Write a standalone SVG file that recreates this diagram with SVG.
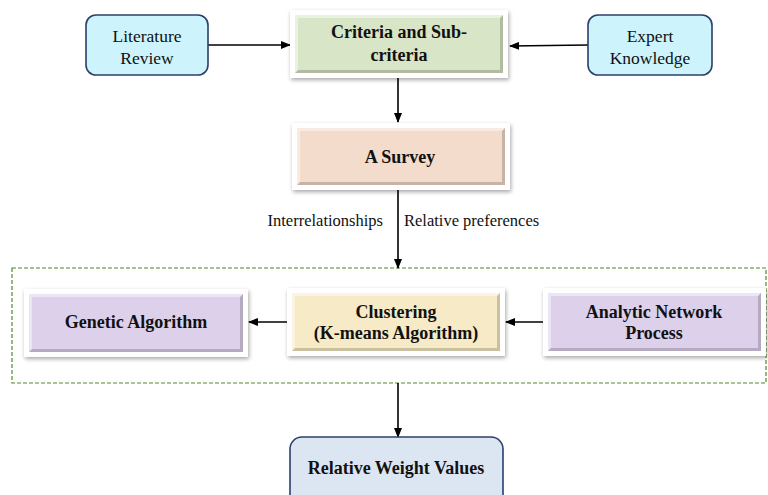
<svg xmlns="http://www.w3.org/2000/svg" width="768" height="495" viewBox="0 0 768 495">
<defs>
<filter id="sh" x="-10%" y="-20%" width="120%" height="140%">
<feGaussianBlur in="SourceAlpha" stdDeviation="2"/>
<feOffset dx="1" dy="2"/>
<feComponentTransfer><feFuncA type="linear" slope="0.35"/></feComponentTransfer>
<feMerge><feMergeNode/><feMergeNode in="SourceGraphic"/></feMerge>
</filter>
<marker id="ah" markerWidth="10" markerHeight="8" refX="9" refY="4" orient="auto" markerUnits="userSpaceOnUse">
<path d="M0,0 L10,4 L0,8 Z" fill="#000"/>
</marker>
</defs>
<style>
.frame{fill:#fff;filter:url(#sh)}
.rnd{stroke:#2b3f6b;stroke-width:1.6}
.t{font-family:"Liberation Serif","Times New Roman",serif;fill:#111;text-anchor:middle}
.b{font-weight:bold;font-size:18px}
.r{font-size:17.5px}
.lab{font-family:"Liberation Serif","Times New Roman",serif;font-size:16.5px;fill:#111}
.con{stroke:#000;stroke-width:1.6;fill:none;marker-end:url(#ah)}
.light{fill:#fff;opacity:0.45}
.dark{fill:#000;opacity:0.18}
</style>
<rect width="768" height="495" fill="#fff"/>

<g id="group-box">
<rect x="12" y="268" width="754" height="115" fill="none" stroke="#4e8a2e" stroke-width="1.2" stroke-dasharray="4,2"/>
</g>

<g id="connectors">
<line class="con" x1="208" y1="45" x2="290" y2="45"/>
<line class="con" x1="588" y1="45" x2="510" y2="46"/>
<line class="con" x1="398" y1="78" x2="398" y2="122"/>
<line class="con" x1="398" y1="190" x2="398" y2="268"/>
<line class="con" x1="287" y1="322" x2="249" y2="322"/>
<line class="con" x1="543" y1="322" x2="506" y2="322"/>
<line class="con" x1="398" y1="383" x2="398" y2="437"/>
</g>

<g id="literature-review">
<rect class="rnd" x="86" y="15" width="122" height="60" rx="10" fill="#cdf4fc"/>
<text class="t r" x="147" y="42">Literature</text>
<text class="t r" x="147" y="64">Review</text>
</g>

<g id="expert-knowledge">
<rect class="rnd" x="588" y="15" width="124" height="60" rx="10" fill="#cdf4fc"/>
<text class="t r" x="650" y="42">Expert</text>
<text class="t r" x="650" y="64">Knowledge</text>
</g>

<g id="criteria">
<rect class="frame" x="290" y="10" width="218" height="68"/>
<rect x="295" y="15" width="208" height="58" fill="#d8e5c6"/>
<path class="light" d="M295,15 H503 L500,18 H298 V70 L295,73 Z"/>
<path class="dark" d="M503,15 V73 H295 L298,70 H500 V18 Z"/>
<text class="t b" x="399" y="38">Criteria and Sub-</text>
<text class="t b" x="399" y="61">criteria</text>
</g>

<g id="survey">
<rect class="frame" x="292" y="123" width="218" height="67"/>
<rect x="297" y="128" width="208" height="57" fill="#f3dccb"/>
<path class="light" d="M297,128 H505 L502,131 H300 V182 L297,185 Z"/>
<path class="dark" d="M505,128 V185 H297 L300,182 H502 V131 Z"/>
<text class="t b" x="400" y="163">A Survey</text>
</g>

<g id="edge-labels">
<text class="lab" x="383" y="226" text-anchor="end">Interrelationships</text>
<text class="lab" x="404" y="226">Relative preferences</text>
</g>

<g id="genetic-algorithm">
<rect class="frame" x="24" y="289" width="224" height="68"/>
<rect x="29" y="294" width="214" height="58" fill="#ddd0eb"/>
<path class="light" d="M29,294 H243 L240,297 H32 V349 L29,352 Z"/>
<path class="dark" d="M243,294 V352 H29 L32,349 H240 V297 Z"/>
<text class="t b" x="136" y="328">Genetic Algorithm</text>
</g>

<g id="clustering">
<rect class="frame" x="287" y="288" width="218" height="68"/>
<rect x="292" y="293" width="208" height="58" fill="#f6ebc6"/>
<path class="light" d="M292,293 H500 L497,296 H295 V348 L292,351 Z"/>
<path class="dark" d="M500,293 V351 H292 L295,348 H497 V296 Z"/>
<text class="t b" x="396" y="318">Clustering</text>
<text class="t b" x="396" y="339">(K-means Algorithm)</text>
</g>

<g id="anp">
<rect class="frame" x="543" y="288" width="223" height="68"/>
<rect x="548" y="293" width="213" height="58" fill="#ddd0eb"/>
<path class="light" d="M548,293 H761 L758,296 H551 V348 L548,351 Z"/>
<path class="dark" d="M761,293 V351 H548 L551,348 H758 V296 Z"/>
<text class="t b" x="654" y="318">Analytic Network</text>
<text class="t b" x="654" y="339">Process</text>
</g>

<g id="relative-weight-values">
<rect class="rnd" x="290" y="437" width="213" height="70" rx="12" fill="#dce6f2"/>
<text class="t b" x="396" y="474">Relative Weight Values</text>
</g>
</svg>
